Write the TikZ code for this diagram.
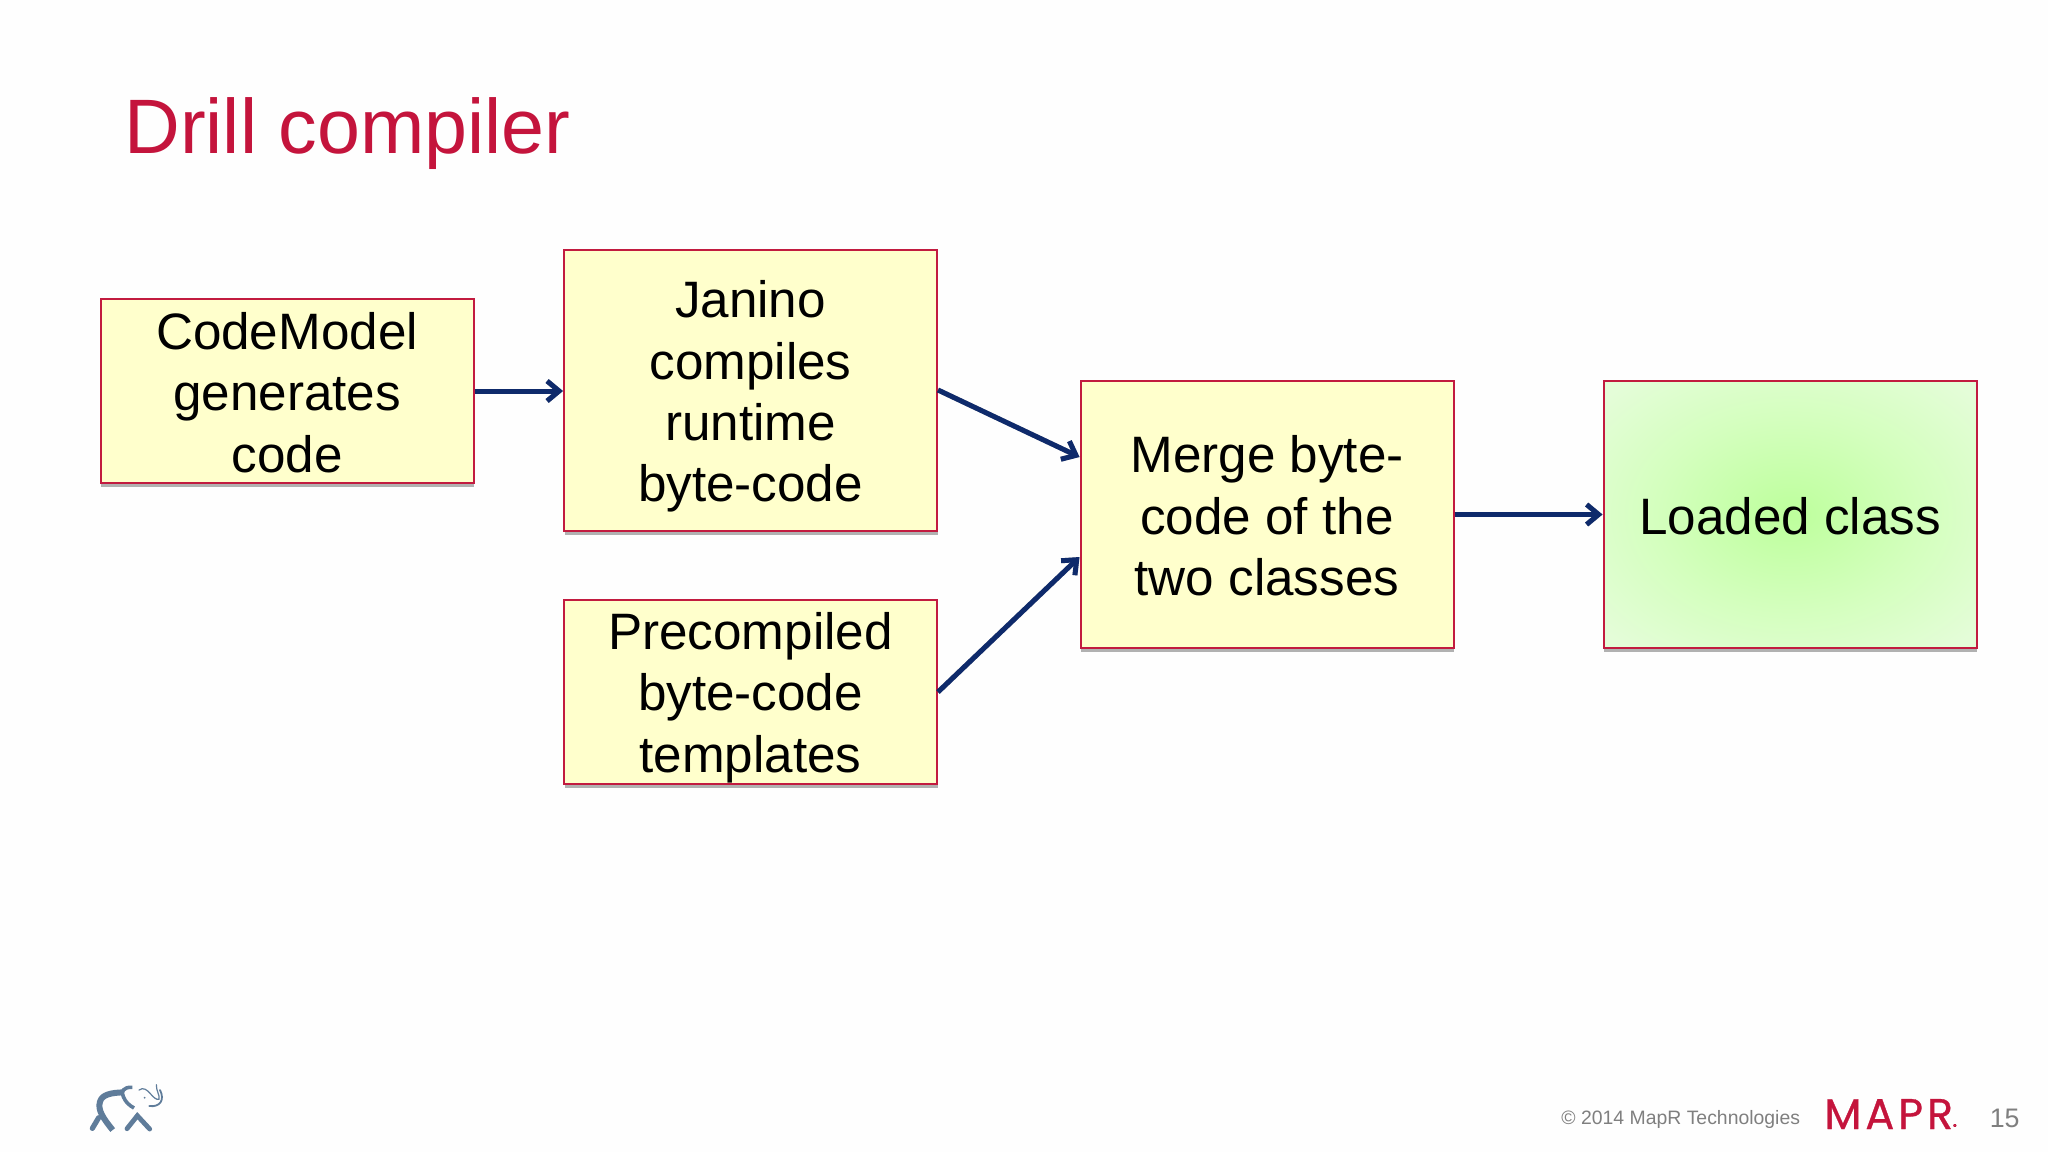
\documentclass[tikz,border=0pt]{standalone}
\usepackage{fontspec}
\setmainfont{Liberation Sans}
\newfontfamily\logofont[LetterSpace=9,FakeBold=0.7]{Poppins}
\usetikzlibrary{arrows.meta,shadows,positioning}
\definecolor{maprred}{HTML}{C4143C}
\definecolor{boxline}{HTML}{C21B3F}
\definecolor{boxfill}{HTML}{FFFFCC}
\definecolor{arrowblue}{HTML}{0E2A6B}
\definecolor{footgray}{HTML}{7F7F7F}
\definecolor{elephant}{HTML}{5F7C9A}
\definecolor{greenmid}{HTML}{BDFF9C}
\definecolor{greenhalf}{HTML}{D4FFBE}
\definecolor{greenout}{HTML}{E4FDD8}
\pgfdeclareradialshading{loadedglow}{\pgfpoint{0bp}{0bp}}{color(0bp)=(greenmid); color(18bp)=(greenhalf); color(33bp)=(greenout); color(50bp)=(greenout)}
\tikzset{
  x=0.5pt,y=-0.5pt,
  boxbase/.style={draw=boxline,line width=1pt,minimum width=186.5pt,inner sep=0pt,
    align=center,font=\fontsize{25.6}{30.7}\selectfont,text=black,
    drop shadow={shadow xshift=0.4pt,shadow yshift=-2.2pt,opacity=.3,fill=black}},
  yellowbox/.style={boxbase,fill=boxfill},
  greenbox/.style={boxbase,shading=loadedglow},
  link/.style={draw=arrowblue,line width=2.5pt,-{Straight Barb[length=6pt,width=10pt,line width=2.5pt]}},
  linkshadow/.style={draw=black,opacity=.28,line width=2.5pt,-{Straight Barb[length=6pt,width=10pt,line width=2.5pt]},yshift=-2.2pt},
  ele/.style={draw=elephant,line cap=round,line join=round}
}
\newcommand{\conn}[2]{\draw[linkshadow] (#1) -- (#2);\draw[link] (#1) -- (#2);}
\newcommand{\tshift}[1]{\rule{0pt}{\dimexpr 18.7pt+#1\relax}}
\begin{document}
\begin{tikzpicture}
\useasboundingbox[fill=white!99.5!black] (0,0) rectangle (2048,1152);
\node[anchor=base west,inner sep=0pt,text=maprred,font=\fontsize{38.6}{46}\selectfont] (title) at (124,153) {Drill compiler};

\node[yellowbox,minimum height=92pt] (cm) at (287,391) {\tshift{1.3pt}CodeModel\\generates\\code};
\node[yellowbox,minimum height=140.5pt] (jan) at (750.5,390) {\tshift{6.5pt}Janino\\compiles\\runtime\\byte-code};
\node[yellowbox,minimum height=92pt] (pre) at (750.5,692) {\tshift{5.2pt}Precompiled\\byte-code\\templates};
\node[yellowbox,minimum height=133.5pt] (mrg) at (1267,514.5) {\tshift{1.3pt}Merge byte-\\code of the\\two classes};
\node[greenbox,minimum height=133.5pt] (lc) at (1790,514.5) {\tshift{1.3pt}Loaded class};

\coordinate (m1) at (mrg.west |- 0,457);
\coordinate (m2) at (mrg.west |- 0,557);
\coordinate (j1) at (jan.west |- cm.east);
\conn{cm.east}{j1}
\conn{jan.east}{m1}
\conn{pre.east}{m2}
\conn{mrg.east}{lc.west}

% elephant logo
\begin{scope}[shift={(60,1050)},x=0.1667pt,y=-0.1667pt]
  \draw[ele,line width=3pt,line cap=butt] (158,240) .. controls (130,205) and (112,180) .. (120,155) .. controls (126,133) and (155,128) .. (190,127);
  \draw[ele,line width=2.6pt] (97,235) -- (116,203);
  \draw[ele,line width=2.4pt,line join=miter] (201,236) -- (232,197) -- (269,237);
  \draw[ele,line width=1.8pt,line cap=butt] (217,112) .. controls (190,110) and (182,125) .. (190,140) .. controls (196,155) and (206,165) .. (222,174);
  \draw[ele,line width=.6pt] (237,120) .. controls (250,110) and (262,120) .. (272,132) .. controls (280,142) and (290,150) .. (297,148) .. controls (300,135) and (288,122) .. (289,104);
  \draw[ele,line width=.9pt] (300,120) .. controls (315,150) and (300,172) .. (268,168);
  \fill[elephant] (254,143) circle[radius=3];
\end{scope}

\node[anchor=base west,inner sep=0pt,text=footgray,font=\fontsize{9.7}{12}\selectfont] (copy) at (1561,1124) {© 2014 MapR Technologies};
\node[anchor=base west,inner sep=0pt,text=maprred,font=\logofont\fontsize{21.5}{22}\selectfont] (logo) at (1824,1129) {MAPR{\fontsize{3.5}{4}\selectfont ®}};
\node[anchor=base east,inner sep=0pt,text=footgray,font=\fontsize{13.4}{16}\selectfont] (num) at (2020,1127) {15};
\end{tikzpicture}
\end{document}
